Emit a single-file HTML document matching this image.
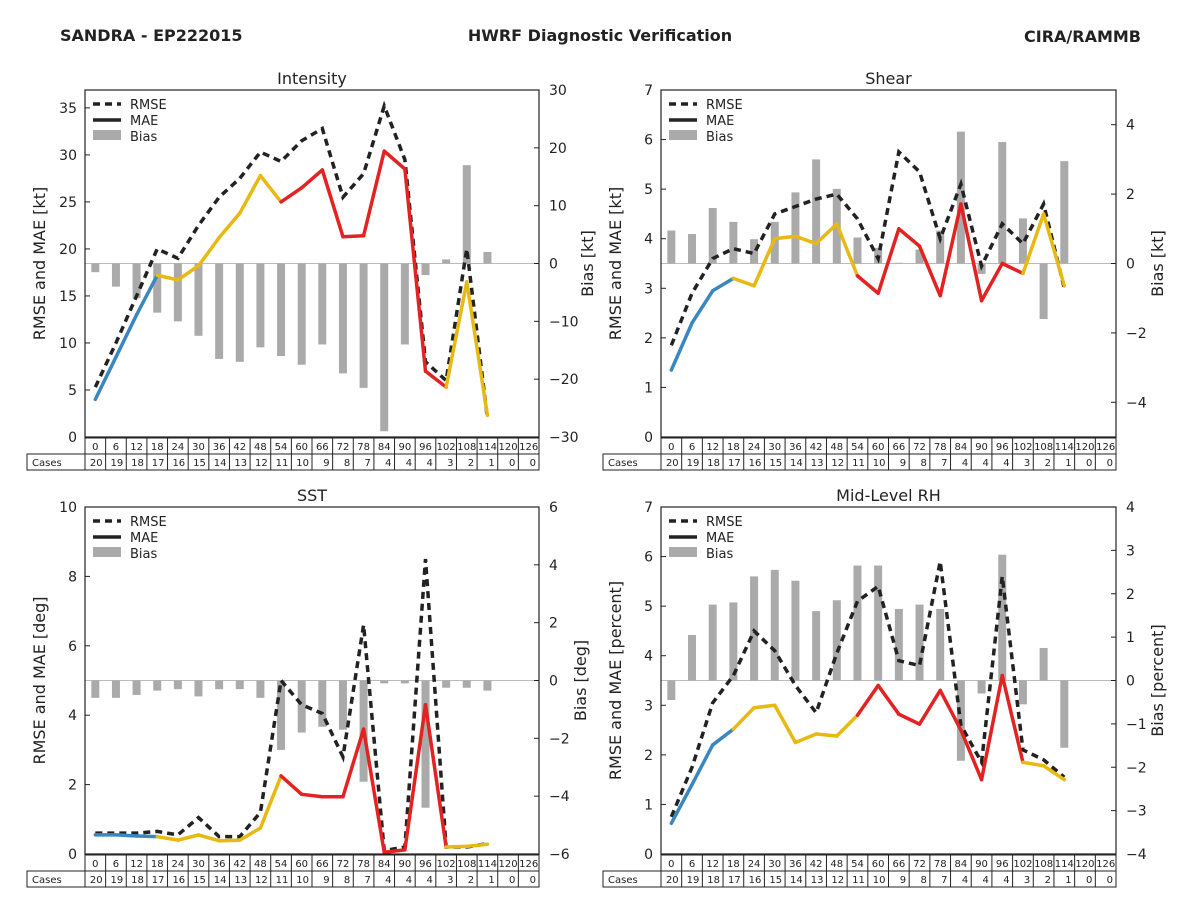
<!DOCTYPE html>
<html><head><meta charset="utf-8"><style>
body{margin:0;background:#fff;}
svg{display:block;font-family:"DejaVu Sans","Liberation Sans",sans-serif;}
</style></head><body>
<svg id="chart" width="1200" height="900" viewBox="0 0 1200 900">
<rect width="1200" height="900" fill="#fff"/>
<text x="60" y="41" font-size="16" font-weight="bold" fill="#222">SANDRA - EP222015</text>
<text x="600" y="41" font-size="16" font-weight="bold" fill="#222" text-anchor="middle">HWRF Diagnostic Verification</text>
<text x="1141" y="42" font-size="16" font-weight="bold" fill="#222" text-anchor="end">CIRA/RAMMB</text>
</svg>
<script>
const hours=[0,6,12,18,24,30,36,42,48,54,60,66,72,78,84,90,96,102,108,114,120,126];
const cases=[20,19,18,17,16,15,14,13,12,11,10,9,8,7,4,4,4,3,2,1,0,0];
// segment color category per segment (0=blue,1=yellow,2=red)
const segCat=[0,0,0,1,1,1,1,1,1,2,2,2,2,2,2,2,2,1,1];
const intRMSE=[5.3,10,15,20,19,22.5,25.5,27.5,30.3,29.3,31.5,32.8,25.5,28,35.2,29.5,8,6,20,2];
const intMAE=[4,8.5,13,17.2,16.7,18.2,21.2,23.8,27.8,25,26.5,28.4,21.3,21.4,30.4,28.5,7,5.3,16.5,2.3];
const intBias=[-1.5,-4,-6,-8.5,-10,-12.5,-16.5,-17,-14.5,-16,-17.5,-14,-19,-21.5,-29,-14,-2,0.7,17,2];
const shRMSE=[1.85,2.9,3.6,3.8,3.7,4.5,4.65,4.8,4.9,4.4,3.6,5.75,5.35,4.0,5.1,3.45,4.3,3.9,4.7,3.0];
const shMAE=[1.35,2.3,2.95,3.2,3.05,4.0,4.05,3.9,4.3,3.25,2.9,4.2,3.85,2.85,4.7,2.75,3.5,3.3,4.5,3.05];
const shBias=[0.95,0.85,1.6,1.2,0.7,1.2,2.05,3.0,2.15,0.75,0.45,0.02,0.4,0.95,3.8,-0.3,3.5,1.3,-1.6,2.95];
const sstRMSE=[0.6,0.6,0.6,0.65,0.55,1.05,0.5,0.5,1.2,5.0,4.3,4.05,2.8,6.6,0.1,0.2,8.5,0.2,0.2,0.3];
const sstMAE=[0.55,0.55,0.52,0.5,0.4,0.55,0.38,0.4,0.75,2.25,1.72,1.65,1.65,3.6,0.05,0.12,4.3,0.2,0.22,0.28];
const sstBias=[-0.6,-0.6,-0.5,-0.35,-0.3,-0.55,-0.3,-0.3,-0.6,-2.4,-1.8,-1.6,-1.7,-3.5,-0.1,-0.1,-4.4,-0.25,-0.25,-0.35];
const rhRMSE=[0.75,1.75,3.05,3.6,4.5,4.1,3.4,2.85,4.05,5.1,5.4,3.9,3.8,5.9,2.6,1.85,5.6,2.1,1.9,1.55];
const rhMAE=[0.62,1.4,2.2,2.52,2.95,3.0,2.25,2.42,2.38,2.8,3.4,2.82,2.62,3.3,2.5,1.5,3.6,1.85,1.78,1.5];
const rhBias=[-0.45,1.05,1.75,1.8,2.4,2.55,2.3,1.6,1.85,2.65,2.65,1.65,1.75,1.65,-1.85,-0.3,2.9,-0.55,0.75,-1.55];
const leftTicksA=[0,5,10,15,20,25,30,35];
const leftTicks7=[0,1,2,3,4,5,6,7];
const leftTicks10=[0,2,4,6,8,10];
const rightTicksInt=[-30,-20,-10,0,10,20,30];
const rightTicksSh=[-4,-2,0,2,4];
const rightTicksSst=[-6,-4,-2,0,2,4,6];
const rightTicksRh=[-4,-3,-2,-1,0,1,2,3,4];

const NS='http://www.w3.org/2000/svg';
const svg=document.getElementById('chart');
const colors=['#3a87c0','#e8b912','#e32222'];
function mk(tag,attrs,parent){const e=document.createElementNS(NS,tag);for(const k in attrs)e.setAttribute(k,attrs[k]);(parent||svg).appendChild(e);return e;}
function txt(s,attrs,parent){const e=mk('text',attrs,parent);e.textContent=s;return e;}

function panel(p){
  const g=mk('g',{});
  
  
  const L=p.x0,R=p.x1,T=p.y0,B=p.y1;
  const cw=(R-L)/22;
  const X=h=>L+cw/2+(h/6)*cw;
  const Y=v=>B-(v-p.lmin)/(p.lmax-p.lmin)*(B-T);
  const YR=v=>B-(v-p.rmin)/(p.rmax-p.rmin)*(B-T);
  txt(p.title,{x:(L+R)/2,y:T-6,'font-size':16,'text-anchor':'middle',fill:'#222'},g);
  const z=mk('line',{x1:L,x2:R,y1:YR(0),y2:YR(0),stroke:'#bbb','stroke-width':1},g);
  
  
  p.bias.forEach((b,i)=>{
    const y0=YR(0),y1=YR(b);
    const r=mk('rect',{x:X(hours[i])-4,y:Math.min(y0,y1),width:8,height:Math.abs(y1-y0),fill:'#aaa'},g);
    
    
  });
  const pts=p.rmse.map((v,i)=>X(hours[i])+','+Y(v)).join(' ');
  const rl=mk('polyline',{points:pts,fill:'none',stroke:'#222','stroke-width':3.5,'stroke-dasharray':'7,5'},g);
  
  
  for(let i=0;i<p.mae.length-1;i++){
    const s=mk('line',{x1:X(hours[i]),y1:Y(p.mae[i]),x2:X(hours[i+1]),y2:Y(p.mae[i+1]),stroke:colors[segCat[i]],'stroke-width':3.5,'stroke-linecap':'round'},g);
    
    
  }
  mk('rect',{x:L,y:T,width:R-L,height:B-T,fill:'none',stroke:'#222','stroke-width':1.2},g);
  p.lt.forEach(v=>{
    mk('line',{x1:L,x2:L+5,y1:Y(v),y2:Y(v),stroke:'#222'},g);
    txt(String(v),{x:L-8,y:Y(v)+5,'font-size':14,'text-anchor':'end',fill:'#222'},g);
  });
  p.rt.forEach(v=>{
    mk('line',{x1:R-5,x2:R,y1:YR(v),y2:YR(v),stroke:'#222'},g);
    txt(v<0?'\u2212'+(-v):String(v),{x:R+10,y:YR(v)+5,'font-size':14,fill:'#222'},g);
  });
  const ly=(T+B)/2;
  txt(p.ll,{x:L-40,y:ly,'font-size':16,'text-anchor':'middle',fill:'#222',transform:`rotate(-90 ${L-40} ${ly})`},g);
  const rx=R+p.ro;
  txt(p.rl,{x:rx,y:ly,'font-size':16,'text-anchor':'middle',fill:'#222',transform:`rotate(-90 ${rx} ${ly})`},g);
  const lg=mk('g',{},g);
  
  
  mk('line',{x1:L+8,x2:L+36,y1:T+14,y2:T+14,stroke:'#222','stroke-width':3.5,'stroke-dasharray':'7,5'},lg);
  txt('RMSE',{x:L+45,y:T+19,'font-size':13,fill:'#222'},lg);
  mk('line',{x1:L+8,x2:L+36,y1:T+30,y2:T+30,stroke:'#222','stroke-width':3.5},lg);
  txt('MAE',{x:L+45,y:T+35,'font-size':13,fill:'#222'},lg);
  mk('rect',{x:L+8,y:T+40,width:28,height:10,fill:'#aaa'},lg);
  txt('Bias',{x:L+45,y:T+51,'font-size':13,fill:'#222'},lg);
  const tb=mk('g',{},g);
  
  
  const r1=B+1,r2=B+17,r3=B+33;
  mk('rect',{x:L,y:r1,width:R-L,height:16,fill:'none',stroke:'#222'},tb);
  mk('rect',{x:L-58,y:r2,width:R-L+58,height:16,fill:'none',stroke:'#222'},tb);
  mk('line',{x1:L,x2:L,y1:r2,y2:r3,stroke:'#222'},tb);
  txt('Cases',{x:L-53,y:r2+12,'font-size':10,fill:'#222'},tb);
  hours.forEach((h,i)=>{
    if(i>0)mk('line',{x1:L+i*cw,x2:L+i*cw,y1:r1,y2:r3,stroke:'#222'},tb);
    txt(String(h),{x:L+i*cw+cw/2,y:r1+12,'font-size':10,'text-anchor':'middle',fill:'#222'},tb);
    txt(String(cases[i]),{x:L+(i+1)*cw-3,y:r2+12,'font-size':10,'text-anchor':'end',fill:'#222'},tb);
  });
}
panel({name:'intensity',title:'Intensity',x0:85,x1:539,y0:90,y1:437,lmin:0,lmax:36.9,rmin:-30,rmax:30,lt:leftTicksA,rt:rightTicksInt,rmse:intRMSE,mae:intMAE,bias:intBias,ll:'RMSE and MAE [kt]',rl:'Bias [kt]',ro:54});
panel({name:'shear',title:'Shear',x0:661,x1:1116,y0:90,y1:437,lmin:0,lmax:7,rmin:-5,rmax:5,lt:leftTicks7,rt:rightTicksSh,rmse:shRMSE,mae:shMAE,bias:shBias,ll:'RMSE and MAE [kt]',rl:'Bias [kt]',ro:47});
panel({name:'sst',title:'SST',x0:85,x1:539,y0:507,y1:854,lmin:0,lmax:10,rmin:-6,rmax:6,lt:leftTicks10,rt:rightTicksSst,rmse:sstRMSE,mae:sstMAE,bias:sstBias,ll:'RMSE and MAE [deg]',rl:'Bias [deg]',ro:47});
panel({name:'mid-level-rh',title:'Mid-Level RH',x0:661,x1:1116,y0:507,y1:854,lmin:0,lmax:7,rmin:-4,rmax:4,lt:leftTicks7,rt:rightTicksRh,rmse:rhRMSE,mae:rhMAE,bias:rhBias,ll:'RMSE and MAE [percent]',rl:'Bias [percent]',ro:47});
</script>
</body></html>
